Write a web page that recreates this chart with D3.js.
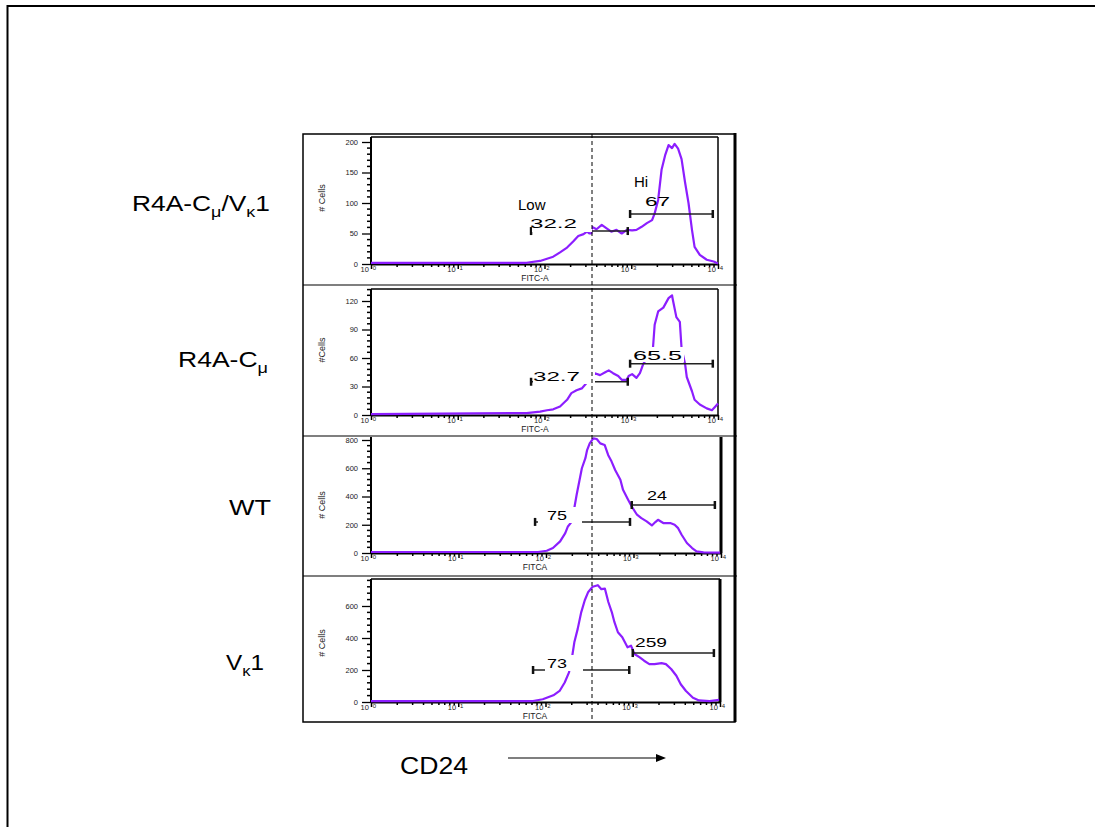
<!DOCTYPE html>
<html>
<head>
<meta charset="utf-8">
<script src="https://cdn.jsdelivr.net/npm/d3@7"></script>
<style>
body { margin: 0; background: #fff; }
svg { display: block; font-family: Arial, "Liberation Sans", sans-serif; }
</style>
</head>
<body>
<div id="grafico"></div>
<script>
// histograms, [FITC-A intensity, # cells]
const cellsR4AVk1 = [[1,2],[62,2],[89,5],[126,12],[151,19],[182,27],[214,37],[245,46],[282,49],[309,53],[331,50],[347,50],[350,61],[398,57],[457,64],[525,58],[589,53],[676,56],[776,50],[891,56],[1023,55],[1148,56],[1318,61],[1514,67],[1738,72],[1862,83],[2042,105],[2239,155],[2455,178],[2692,195],[2951,190],[3162,197],[3467,189],[3802,172],[4169,134],[4571,100],[5012,56],[5370,28],[6166,15],[7413,7],[8913,4],[10000,1]];
const cellsR4A = [[1,1],[62,2],[89,3.5],[107,5],[126,6],[151,9],[182,16],[204,23],[234,26],[269,28],[295,32],[331,38],[380,44],[437,42],[501,45],[550,47],[617,44],[708,41],[776,37],[891,37],[933,41],[1023,43],[1148,39],[1259,44],[1380,54],[1585,62],[1778,70],[1862,95],[2042,109],[2344,113],[2692,123],[2951,126],[3020,121],[3311,103],[3631,98],[3802,70],[4169,54],[4365,40],[5012,25],[5370,16],[6166,11],[7413,7],[8511,5],[9333,9],[10000,12]];
const cellsWT = [[1,7],[81,7],[102,16],[120,35],[145,82],[166,141],[178,188],[195,219],[209,306],[224,412],[257,600],[282,671],[295,729],[316,776],[347,812],[380,807],[417,776],[468,765],[513,694],[562,647],[617,588],[708,518],[759,447],[871,376],[955,329],[1096,271],[1230,247],[1413,224],[1622,195],[1778,219],[1905,235],[2188,212],[2630,212],[2951,200],[3236,176],[3548,129],[4074,71],[4677,35],[5248,12],[6310,5],[9772,2]];
const cellsVk1 = [[1,6],[72,6],[93,17],[123,42],[145,69],[166,122],[186,185],[200,269],[214,373],[234,457],[257,562],[282,636],[309,688],[347,720],[398,730],[437,705],[479,709],[525,625],[575,562],[617,499],[676,436],[759,405],[871,342],[955,352],[1047,300],[1202,279],[1349,258],[1549,237],[1778,237],[2138,243],[2399,237],[2754,206],[3162,164],[3548,111],[4074,69],[4898,27],[5754,10],[7586,6],[9772,13]];

const muestras = [cellsR4AVk1, cellsR4A, cellsWT, cellsVk1];
const yTicks = [[0,50,100,150,200],[0,30,60,90,120],[0,200,400,600,800],[0,200,400,600]];
const xDecadas = [1, 10, 100, 1000, 10000];
const xExpon = ["0", "1", "2", "3", "4"];
const ejeX = ["FITC-A", "FITC-A", "FITCA", "FITCA"];
const ejeY = ["# Cells", "#Cells", "# Cells", "# Cells"];
// gates: [desde, hasta, altura en # cells]
const gateLow = [[70,912,54],[70,912,35],[75,912,220],[72,912,200]];
const gateHi = [[970,8710,82],[970,8710,54],[955,8511,340],[1000,8511,306]];
const pctLow = ["32.2", "32.7", "75", "73"];
const pctHi = ["67", "65.5", "24", "259"];

// layout of every panel (pixels)
const paneles = [
    {left:371, right:718, bottom:264, topTick:142, frameTop:137, thick:1.5, tyx:[325,198],
     cajas:[[532,215,60,17]], lowTxt:[530,228,47], hiTxt:[645,206,25]},
    {left:371, right:718, bottom:415, topTick:301, frameTop:289, thick:1.5, tyx:[325,350],
     cajas:[[533,369,62,15],[632,347,52,15]], lowTxt:[533,381,47], hiTxt:[633,360,49]},
    {left:371, right:721, bottom:553, topTick:440, frameTop:null, thick:3, tyx:[325,505],
     cajas:[[538,507,44,16]], lowTxt:[547,520,20], hiTxt:[647,500,20]},
    {left:371, right:720, bottom:702, topTick:606, frameTop:579, thick:3, tyx:[325,643],
     cajas:[[545,655,38,16]], lowTxt:[547,668,20], hiTxt:[635,647,32]}
];
const morado = "#8c1eff";

const svg = d3.select("#grafico").append("svg")
    .attr("width", 1095)
    .attr("height", 827);

// marco exterior
svg.append("path")
    .attr("d", "M7.5,827 V6 H1095")
    .attr("fill", "none")
    .attr("stroke", "#000")
    .attr("stroke-width", 2);

// caja de los paneles
svg.append("rect")
    .attr("x", 303).attr("y", 134).attr("width", 432).attr("height", 588)
    .attr("fill", "none").attr("stroke", "#000").attr("stroke-width", 1.5);
svg.append("line")
    .attr("x1", 735).attr("x2", 735).attr("y1", 133).attr("y2", 722)
    .attr("stroke", "#000").attr("stroke-width", 3);
[285, 436, 576].forEach(y => {
    svg.append("line")
        .attr("x1", 303).attr("x2", 737).attr("y1", y).attr("y2", y)
        .attr("stroke", "#000").attr("stroke-width", 1.2);
});

paneles.forEach((p, i) => {
    const maxTick = d3.max(yTicks[i]);
    const x = d3.scaleLog().domain([1, 10000]).range([p.left, p.right]);
    const y = d3.scaleLinear().domain([0, maxTick]).range([p.bottom, p.topTick]);
    const g = svg.append("g");
    const arriba = p.frameTop !== null ? p.frameTop : p.topTick - 3;

    // marco del grafico
    if (p.frameTop !== null) {
        g.append("line")
            .attr("x1", p.left).attr("x2", p.right).attr("y1", p.frameTop).attr("y2", p.frameTop)
            .attr("stroke", "#000").attr("stroke-width", 1.5);
    }
    g.append("line")
        .attr("x1", p.right).attr("x2", p.right)
        .attr("y1", arriba).attr("y2", p.bottom)
        .attr("stroke", "#000").attr("stroke-width", p.thick);

    // eje Y
    const paso = yTicks[i][1] / 5;
    const menores = d3.range(0, (p.bottom - arriba) / (p.bottom - p.topTick) * maxTick, paso)
        .filter(v => !yTicks[i].includes(v));
    g.append("g")
        .selectAll("line")
        .data(menores)
        .join("line")
        .attr("x1", p.left - 4).attr("x2", p.left)
        .attr("y1", d => y(d)).attr("y2", d => y(d))
        .attr("stroke", "#000").attr("stroke-width", 1.5);
    const ay = g.append("g")
        .attr("transform", "translate(" + p.left + ",0)")
        .call(d3.axisLeft(y).tickValues(yTicks[i]).tickSize(9).tickSizeOuter(0).tickPadding(4));
    ay.select(".domain").remove();
    ay.selectAll(".tick line").attr("stroke-width", 1.3);
    ay.selectAll(".tick text").style("font-size", "7.5px").attr("fill", "#222");
    g.append("line")
        .attr("x1", p.left).attr("x2", p.left)
        .attr("y1", arriba).attr("y2", p.bottom + 1)
        .attr("stroke", "#000").attr("stroke-width", 2);

    // eje X
    const menoresX = [];
    xDecadas.slice(0, 4).forEach(d => { for (let k = 2; k < 10; k++) menoresX.push(d * k); });
    g.append("g")
        .selectAll("line")
        .data(menoresX)
        .join("line")
        .attr("x1", d => x(d)).attr("x2", d => x(d))
        .attr("y1", p.bottom).attr("y2", p.bottom + 3)
        .attr("stroke", "#000").attr("stroke-width", 1.5);
    const ax = g.append("g")
        .attr("transform", "translate(0," + p.bottom + ")")
        .call(d3.axisBottom(x).tickValues(xDecadas).tickSize(5).tickSizeOuter(0).tickFormat(""));
    ax.select(".domain").attr("stroke-width", 2);
    ax.selectAll(".tick line").attr("stroke-width", 1.5);
    const etq = g.append("g").selectAll("text")
        .data(xDecadas)
        .join("text")
        .attr("x", d => x(d) - 10.5)
        .attr("y", p.bottom + 8)
        .style("font-size", "7.5px")
        .attr("fill", "#222");
    etq.append("tspan").text("10");
    etq.append("tspan")
        .attr("dx", 4).attr("dy", -2)
        .style("font-size", "6px")
        .text((d, j) => xExpon[j]);

    // titulos de ejes
    g.append("text")
        .attr("x", 535).attr("y", p.bottom + 16.5)
        .attr("text-anchor", "middle")
        .style("font-size", "8.5px")
        .attr("fill", "#222")
        .text(ejeX[i]);
    g.append("text")
        .attr("transform", "translate(" + p.tyx[0] + "," + p.tyx[1] + ") rotate(-90)")
        .attr("text-anchor", "middle")
        .style("font-size", "9px")
        .attr("fill", "#222")
        .text(ejeY[i]);

    // histograma
    g.append("path")
        .datum(muestras[i])
        .attr("fill", "none")
        .attr("stroke", morado)
        .attr("stroke-width", 2.2)
        .attr("stroke-linejoin", "round")
        .attr("d", d3.line().x(d => x(d[0])).y(d => y(d[1])));

    // gates
    [gateLow[i], gateHi[i]].forEach(gt => {
        const yy = y(gt[2]);
        g.append("line")
            .attr("x1", x(gt[0])).attr("x2", x(gt[1])).attr("y1", yy).attr("y2", yy)
            .attr("stroke", "#222").attr("stroke-width", 1.5);
        [gt[0], gt[1]].forEach(v => {
            g.append("line")
                .attr("x1", x(v)).attr("x2", x(v)).attr("y1", yy - 4).attr("y2", yy + 4)
                .attr("stroke", "#111").attr("stroke-width", 2.5);
        });
    });

    // fondo blanco de las etiquetas
    p.cajas.forEach(c => {
        g.append("rect")
            .attr("x", c[0]).attr("y", c[1]).attr("width", c[2]).attr("height", c[3])
            .attr("fill", "#fff");
    });

    g.append("text")
        .attr("x", p.lowTxt[0]).attr("y", p.lowTxt[1])
        .attr("textLength", p.lowTxt[2]).attr("lengthAdjust", "spacingAndGlyphs")
        .style("font-size", "13px")
        .text(pctLow[i]);
    g.append("text")
        .attr("x", p.hiTxt[0]).attr("y", p.hiTxt[1])
        .attr("textLength", p.hiTxt[2]).attr("lengthAdjust", "spacingAndGlyphs")
        .style("font-size", "13px")
        .text(pctHi[i]);
});

// Low / Hi
svg.append("text").attr("x", 518).attr("y", 210).style("font-size", "15px").text("Low");
svg.append("text").attr("x", 634).attr("y", 187).style("font-size", "15px").text("Hi");

// linea de corte
svg.append("line")
    .attr("x1", 592).attr("x2", 592).attr("y1", 134).attr("y2", 722)
    .attr("stroke", "#000").attr("stroke-width", 1)
    .attr("stroke-dasharray", "4,3");

// nombres de las muestras
function nombre(xx, yy, largo, partes) {
    const t = svg.append("text")
        .attr("x", xx).attr("y", yy)
        .attr("textLength", largo).attr("lengthAdjust", "spacingAndGlyphs")
        .style("font-size", "22px");
    partes.forEach(pt => {
        if (pt.sub) {
            t.append("tspan").attr("dy", 6).style("font-size", "15px").text(pt.s);
        } else {
            t.append("tspan").attr("dy", pt.up ? -6 : 0).text(pt.s);
        }
    });
}
nombre(132, 211, 138, [{s:"R4A-C"},{s:"μ",sub:true},{s:"/V",up:true},{s:"κ",sub:true},{s:"1",up:true}]);
nombre(178, 367, 90, [{s:"R4A-C"},{s:"μ",sub:true}]);
nombre(229, 515, 42, [{s:"WT"}]);
nombre(226, 670, 38, [{s:"V"},{s:"κ",sub:true},{s:"1",up:true}]);

// CD24 + flecha
svg.append("text")
    .attr("x", 400).attr("y", 774)
    .attr("textLength", 68).attr("lengthAdjust", "spacingAndGlyphs")
    .style("font-size", "23px")
    .text("CD24");
svg.append("line")
    .attr("x1", 508).attr("x2", 658).attr("y1", 758).attr("y2", 758)
    .attr("stroke", "#000").attr("stroke-width", 1.2);
svg.append("path")
    .attr("d", "M656,754 L666,758 L656,762 Z")
    .attr("fill", "#000");
</script>
</body>
</html>
